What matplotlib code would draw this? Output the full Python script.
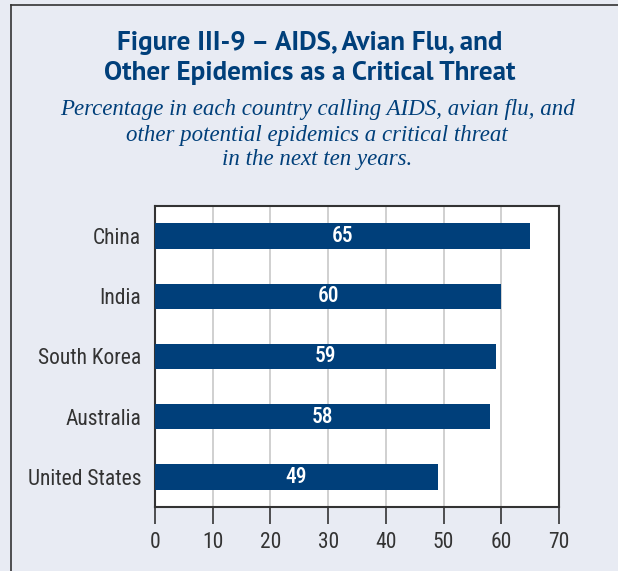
import matplotlib
matplotlib.use('Agg')
import matplotlib.pyplot as plt
from matplotlib.lines import Line2D

countries = ['China', 'India', 'South Korea', 'Australia', 'United States']
values = [65, 60, 59, 58, 49]
xticks = [0, 10, 20, 30, 40, 50, 60, 70]

W, H = 618, 571
BG = '#e8ebf3'
NAVY = '#003f7a'
COND = 'Roboto Condensed'

fig = plt.figure(figsize=(W / 100, H / 100), dpi=100, facecolor=BG)

# box outline (left and top edges)
fig.add_artist(Line2D([11 / W, 11 / W], [0, 1 - 5 / H], color='#333333', lw=1.2))
fig.add_artist(Line2D([11 / W, 1], [1 - 5 / H, 1 - 5 / H], color='#333333', lw=1.2))

# titles
fig.text(310 / W, 1 - 43 / H, 'Figure III-9 – AIDS, Avian Flu, and', ha='center', va='center',
         fontsize=19.5, fontweight='bold', color=NAVY, family=['PT Sans', 'Lato'])
fig.text(310 / W, 1 - 73 / H, 'Other Epidemics as a Critical Threat', ha='center', va='center',
         fontsize=19.5, fontweight='bold', color=NAVY, family=['PT Sans', 'Lato'])
sub = ['Percentage in each country calling AIDS, avian flu, and',
       'other potential epidemics a critical threat',
       'in the next ten years.']
for i, s in enumerate(sub):
    fig.text(317 / W, 1 - (110 + 25 * i) / H, s, ha='center', va='center',
             fontsize=16.5, style='italic', color=NAVY, family='Liberation Serif')

ax = fig.add_axes([155 / W, 1 - 507 / H, (559 - 155) / W, (507 - 206) / H])
ax.set_facecolor('white')
ypos = list(range(len(countries)))
bars = ax.barh(ypos, values, height=0.42, color=NAVY, zorder=3)
for b, v in zip(bars, values):
    ax.text(v / 2, b.get_y() + b.get_height() / 2, str(v), ha='center', va='center',
            color='white', fontsize=15.5, fontweight='medium', family=COND)

ax.set_xlim(0, 70)
ax.set_ylim(len(countries) - 0.5, -0.5)
ax.set_yticks(ypos)
ax.set_yticklabels(countries)
ax.set_xticks(xticks)
ax.xaxis.grid(True, color='#c8c8c8', lw=1.2, zorder=0)
ax.tick_params(axis='y', length=0, pad=10)
ax.tick_params(axis='x', length=12, width=1.2, color='#333333', pad=6)
for lab in ax.get_xticklabels() + ax.get_yticklabels():
    lab.set_family(COND)
    lab.set_fontsize(15.5)
    lab.set_color('#333333')
for sp in ax.spines.values():
    sp.set_color('#333333')
    sp.set_linewidth(1.5)

fig.savefig('out.png', dpi=100, facecolor=BG)
